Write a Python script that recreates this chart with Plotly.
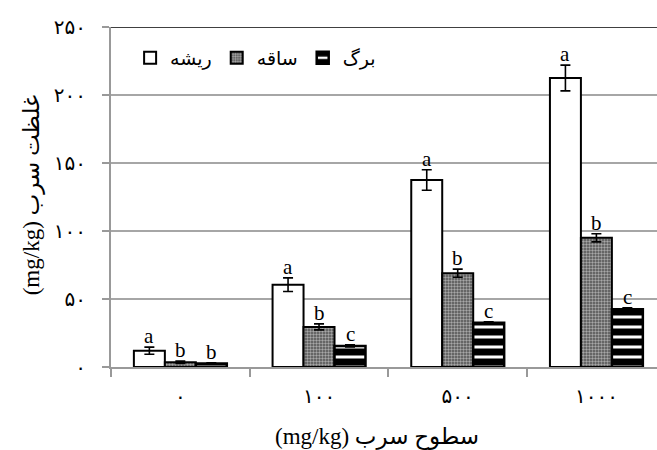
import plotly.graph_objects as go

# Lead levels in soil (mg/kg), Persian digits
levels = ["۰", "۱۰۰", "۵۰۰", "۱۰۰۰"]

# Lead concentration in tissues (mg/kg) and standard errors
root = [12.0, 60.5, 137.5, 212.5]
root_err = [2.6, 5.0, 7.5, 9.5]
stem = [3.5, 29.5, 69.0, 95.0]
stem_err = [0.8, 2.2, 3.0, 3.0]
leaf = [2.5, 15.5, 32.5, 42.5]
leaf_err = [0.5, 0.8, 0.8, 1.0]

# Mean-separation letters
root_letters = ["a", "a", "a", "a"]
stem_letters = ["b", "b", "b", "b"]
leaf_letters = ["b", "c", "c", "c"]

y_ticks = [0, 50, 100, 150, 200, 250]
y_ticktext = ["۰", "۵۰", "۱۰۰", "۱۵۰", "۲۰۰", "۲۵۰"]

names = ["ریشه", "ساقه", "برگ"]

serif = "Liberation Serif, Times New Roman, DejaVu Sans"

x = list(range(len(levels)))
group_width = 0.67
bw = group_width / 3

fig = go.Figure()

series = [
    (root, root_err, root_letters,
     dict(color="white", line=dict(color="black", width=2))),
    (stem, stem_err, stem_letters,
     dict(color="#777777", line=dict(color="black", width=2),
          pattern=dict(shape=".", fgcolor="white", bgcolor="#505050",
                       size=3, solidity=0.5))),
    (leaf, leaf_err, leaf_letters,
     dict(color="white", line=dict(color="black", width=2.5),
          pattern=dict(shape="-", fgcolor="black", bgcolor="white",
                       fgopacity=1, size=10, solidity=0.7))),
]

for k, (vals, errs, letters, marker) in enumerate(series):
    off = (k - 1) * bw
    fig.add_trace(go.Bar(
        x=x, y=vals, name=names[k], marker=marker,
        width=bw, offset=off - bw / 2,
        error_y=dict(type="data", array=errs, color="black",
                     thickness=1.6, width=5),
    ))
    for i in range(len(levels)):
        fig.add_annotation(
            x=i + off, y=vals[i] + errs[i], text=letters[i],
            showarrow=False, yanchor="bottom", yshift=-3,
            font=dict(family=serif, size=21, color="black"),
        )

# black top border of the plotting area
fig.add_shape(type="line", xref="paper", yref="y", x0=0, x1=1, y0=250, y1=250,
              line=dict(color="black", width=1.6))

# axis titles
fig.add_annotation(
    xref="paper", yref="paper", x=-0.1447, y=0.505, textangle=-90,
    xanchor="center", yanchor="middle",
    text="(mg/kg) غلظت سرب", showarrow=False,
    font=dict(family=serif, size=23, color="black"),
)
fig.add_annotation(
    xref="paper", yref="paper", x=0.487, y=-0.205,
    xanchor="center", yanchor="middle",
    text="(mg/kg) سطوح سرب", showarrow=False,
    font=dict(family=serif, size=23, color="black"),
)

fig.update_layout(
    width=657, height=450,
    margin=dict(l=111, r=0, t=27, b=83),
    paper_bgcolor="white", plot_bgcolor="white",
    barmode="overlay",
    showlegend=True,
    legend=dict(orientation="h", x=0.035, y=0.909, xanchor="left", yanchor="middle",
                font=dict(family=serif, size=19, color="black"),
                bgcolor="rgba(0,0,0,0)", itemwidth=30, traceorder="normal"),
    font=dict(family=serif, color="black"),
)

fig.update_xaxes(
    range=[-0.5, 3.437],
    tickvals=x, ticktext=levels, ticks="",
    ticklabelstandoff=10,
    tickfont=dict(family=serif, size=20, color="black"),
    showgrid=False, showline=True, linecolor="#999999", linewidth=2,
    zeroline=False,
    minor=dict(tickvals=[-0.5, 0.5, 1.5, 2.5], ticks="outside", ticklen=8,
               tickcolor="#999999", tickwidth=2, showgrid=False),
)

fig.update_yaxes(
    range=[0, 250],
    tickvals=y_ticks, ticktext=y_ticktext,
    ticks="outside", ticklen=7, tickcolor="#999999", tickwidth=2,
    ticklabelstandoff=12,
    tickfont=dict(family=serif, size=20, color="black"),
    showgrid=True, gridcolor="#a6a6a6", gridwidth=1.5,
    showline=True, linecolor="#999999", linewidth=2,
    zeroline=False,
)

fig.write_html("out.html")
